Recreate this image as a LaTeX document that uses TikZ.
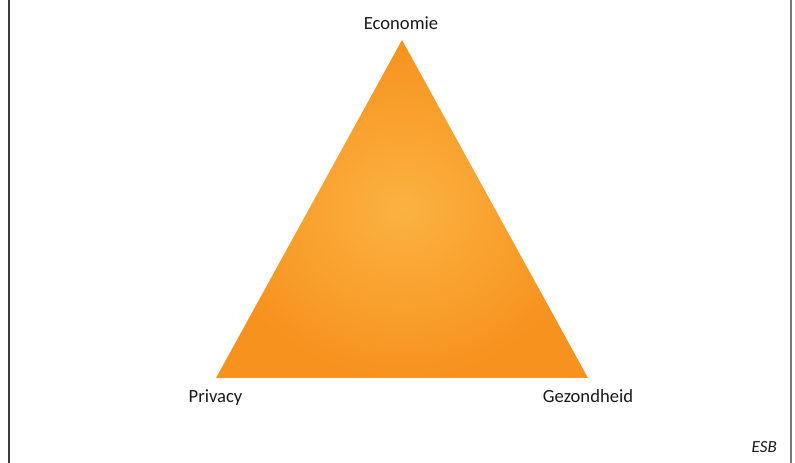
\documentclass[tikz,border=0pt]{standalone}
\usepackage{fontspec}
\setmainfont{Carlito}
\definecolor{orinner}{RGB}{251,178,66}
\definecolor{orouter}{RGB}{247,146,30}
\definecolor{leftline}{RGB}{60,60,60}
\definecolor{rightline}{RGB}{120,120,120}
\begin{document}
\begin{tikzpicture}[x=1pt,y=1pt,
  lbl/.style={font=\fontsize{18.6}{20}\selectfont, text=black!90, inner sep=0pt, anchor=base},
  frameline/.style={line width=1.4pt}]
\useasboundingbox (0,0) rectangle (795,463);
\coordinate (top) at (402,423);
\coordinate (bl) at (216,85);
\coordinate (br) at (588,85);
\shade[inner color=orinner, outer color=orouter] (top) -- (bl) -- (br) -- cycle;
\node[lbl] (eco) at (401,433) {Economie};
\node[lbl] (priv) at (215.5,60) {Privacy};
\node[lbl] (gez) at (588,60) {Gezondheid};
\node[lbl, anchor=base east, font=\fontsize{17}{20}\selectfont\itshape] (esb) at (777,10) {ESB};
\coordinate (lt) at (9,463); \coordinate (lb) at (9,0);
\coordinate (rt) at (791,463); \coordinate (rb) at (791,0);
\draw[frameline, leftline] (lt) -- (lb);
\draw[frameline, rightline] (rt) -- (rb);
\end{tikzpicture}
\end{document}
